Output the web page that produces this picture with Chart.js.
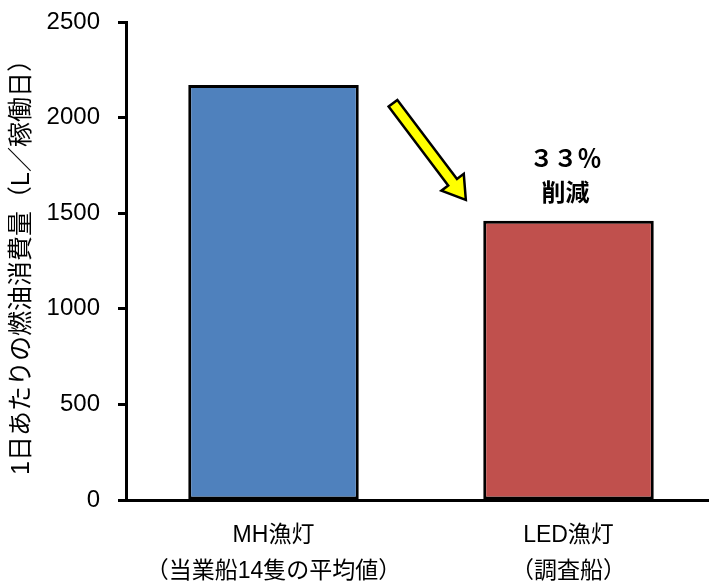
<!DOCTYPE html>
<html>
<head>
<meta charset="utf-8">
<script src="https://cdn.jsdelivr.net/npm/chart.js@4"></script>
<style>
  html, body { margin: 0; padding: 0; background: #fff; overflow: hidden; }
  #wrap { width: 716px; height: 585px; }
</style>
</head>
<body>
<div id="wrap"><canvas id="fuelChart"></canvas></div>
<script>
const categories = [['MH漁灯', '（当業船14隻の平均値）'], ['LED漁灯', '（調査船）']];
const fuelPerDay = [2170, 1460];
const barColors = ['#4F81BD', '#C0504D'];
const yTicks = [0, 500, 1000, 1500, 2000, 2500];
const reductionLabel = ['３３％', '削減'];

const FONT = '"Liberation Sans", "Noto Sans CJK JP", sans-serif';

// arrow + "33% 削減" note, placed through the chart's own scales
const notePlugin = {
    id: 'reductionNote',
    afterDatasetsDraw(chart) {
        const { ctx, scales: { x, y } } = chart;
        const x0 = x.getPixelForValue(0.405), y0 = y.getPixelForValue(2075);
        const x1 = x.getPixelForValue(0.652), y1 = y.getPixelForValue(1570);
        const ang = Math.atan2(y1 - y0, x1 - x0);
        const len = Math.hypot(x1 - x0, y1 - y0);
        const shaft = 5.5, head = 14, headLen = 22;
        ctx.save();
        ctx.translate(x0, y0);
        ctx.rotate(ang);
        ctx.beginPath();
        ctx.moveTo(0, -shaft);
        ctx.lineTo(len - headLen, -shaft);
        ctx.lineTo(len - headLen, -head);
        ctx.lineTo(len, 0);
        ctx.lineTo(len - headLen, head);
        ctx.lineTo(len - headLen, shaft);
        ctx.lineTo(0, shaft);
        ctx.closePath();
        ctx.fillStyle = '#FFFF00';
        ctx.fill();
        ctx.lineWidth = 2.5;
        ctx.strokeStyle = '#000';
        ctx.stroke();
        ctx.restore();

        ctx.save();
        ctx.fillStyle = '#000';
        ctx.textAlign = 'center';
        ctx.textBaseline = 'middle';
        ctx.font = 'bold 24px "Noto Sans CJK JP", sans-serif';
        const tx = x.getPixelForValue(0.99);
        ctx.fillText(reductionLabel[0], tx, y.getPixelForValue(1790));
        ctx.fillText(reductionLabel[1], tx, y.getPixelForValue(1612));
        ctx.restore();
    }
};

const fuelChart = new Chart(document.getElementById('fuelChart'), {
    type: 'bar',
    data: {
        labels: categories,
        datasets: [{
            data: fuelPerDay,
            backgroundColor: barColors,
            borderColor: '#000',
            borderWidth: 3,
            borderSkipped: false,
            barPercentage: 0.578,
            categoryPercentage: 1
        }]
    },
    options: {
        responsive: true,
        maintainAspectRatio: false,
        animation: false,
        layout: { padding: { top: 22, left: 0, right: 0, bottom: 0 } },
        plugins: {
            legend: { display: false },
            tooltip: { enabled: false }
        },
        scales: {
            x: {
                grid: { display: false, drawTicks: false },
                border: { display: true, color: '#000', width: 3 },
                ticks: {
                    color: '#000',
                    font: { family: FONT, size: 23, lineHeight: 1.55 },
                    padding: 18,
                    maxRotation: 0,
                    autoSkip: false
                },
                afterFit: s => { s.height = 85; s.paddingLeft = 0; s.paddingRight = 0; }
            },
            y: {
                min: 0,
                max: 2500,
                afterBuildTicks: s => { s.ticks = yTicks.map(v => ({ value: v })); },
                grid: {
                    drawOnChartArea: false,
                    drawTicks: true,
                    tickLength: 8,
                    tickWidth: 3,
                    tickColor: '#000'
                },
                border: { display: true, color: '#000', width: 3 },
                ticks: {
                    color: '#000',
                    font: { family: FONT, size: 24 },
                    padding: 18,
                    callback: v => String(v)
                },
                title: {
                    display: true,
                    text: '1日あたりの燃油消費量（L／稼働日）',
                    color: '#000',
                    font: { family: FONT, size: 25 },
                    padding: { top: 7, bottom: 0 }
                },
                afterFit: s => { s.width = 126; s.paddingTop = 0; s.paddingBottom = 0; }
            }
        }
    },
    plugins: [notePlugin]
});
</script>
</body>
</html>
